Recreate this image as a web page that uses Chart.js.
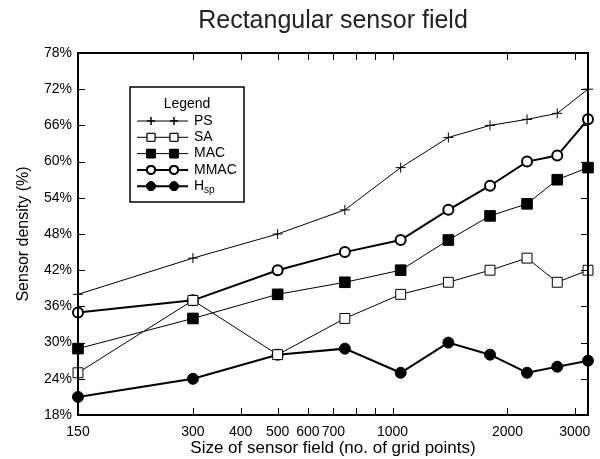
<!DOCTYPE html>
<html>
<head>
<meta charset="utf-8">
<script src="https://cdn.jsdelivr.net/npm/chart.js@4"></script>
<style>
  html, body { margin: 0; padding: 0; background: #fff; }
  #wrap { width: 600px; height: 459px; }
</style>
</head>
<body>
<div id="wrap"><canvas id="chart"></canvas></div>
<script>
// Grid sizes (x) and sensor density per method (%)
const fieldSizes = [150, 300, 500, 750, 1050, 1400, 1800, 2250, 2700, 3250];
const psValues   = [38, 44, 48, 52, 59, 64, 66, 67, 68, 72];
const saValues   = [25, 37, 28, 34, 38, 40, 42, 44, 40, 42];
const macValues  = [29, 34, 38, 40, 42, 47, 51, 53, 57, 59];
const mmacValues = [35, 37, 42, 45, 47, 52, 56, 60, 61, 67];
const hspValues  = [21, 24, 28, 29, 25, 30, 28, 25, 26, 27];

const xTickMarks  = [150, 300, 400, 500, 600, 700, 800, 900, 1000, 2000, 3000];
const xTickLabels = [150, 300, 400, 500, 600, 700, 1000, 2000, 3000];

const FONT = "'Liberation Sans', Arial, sans-serif";

function toPoints(values) {
  return values.map((v, i) => ({ x: fieldSizes[i], y: v }));
}

const datasets = [
  { label: "PS", data: toPoints(psValues), borderWidth: 1, pointStyle: "cross", pointRadius: 5, pointBorderWidth: 1, pointBackgroundColor: "#000" },
  { label: "SA", data: toPoints(saValues), borderWidth: 1, pointStyle: "rect", pointRadius: 7, pointBorderWidth: 1, pointBackgroundColor: "#fff" },
  { label: "MAC", data: toPoints(macValues), borderWidth: 1, pointStyle: "rect", pointRadius: 7.5, pointBorderWidth: 1, pointBackgroundColor: "#000" },
  { label: "MMAC", data: toPoints(mmacValues), borderWidth: 2, pointStyle: "circle", pointRadius: 5, pointBorderWidth: 2, pointBackgroundColor: "#fff" },
  { label: "Hsp", data: toPoints(hspValues), borderWidth: 2, pointStyle: "circle", pointRadius: 5.5, pointBorderWidth: 1, pointBackgroundColor: "#000" }
].map(d => Object.assign(d, { borderColor: "#000", pointBorderColor: "#000", clip: false, tension: 0 }));

// Frame, inward tick marks and the boxed legend
const framePlugin = {
  id: "frame",
  afterDatasetsDraw(chart) {
    const { ctx, chartArea: a, scales } = chart;
    ctx.save();
    ctx.strokeStyle = "#000";
    ctx.lineWidth = 1;
    const tl = 7;
    ctx.beginPath();
    scales.x.ticks.forEach(t => {
      const px = Math.round(scales.x.getPixelForValue(t.value)) + 0.5;
      if (px <= a.left + 1 || px >= a.right - 1) return;
      ctx.moveTo(px, a.bottom); ctx.lineTo(px, a.bottom - tl);
      ctx.moveTo(px, a.top); ctx.lineTo(px, a.top + tl);
    });
    scales.y.ticks.forEach(t => {
      const py = Math.round(scales.y.getPixelForValue(t.value)) + 0.5;
      if (py <= a.top + 1 || py >= a.bottom - 1) return;
      ctx.moveTo(a.left, py); ctx.lineTo(a.left + tl, py);
      ctx.moveTo(a.right, py); ctx.lineTo(a.right - tl, py);
    });
    ctx.stroke();
    ctx.lineWidth = 2;
    ctx.strokeRect(a.left, a.top, a.right - a.left, a.bottom - a.top);

    // legend box
    const bx = 130, by = 87, bw = 114, bh = 115;
    ctx.fillStyle = "#fff";
    ctx.fillRect(bx, by, bw, bh);
    ctx.lineWidth = 1.5;
    ctx.strokeRect(bx, by, bw, bh);
    ctx.fillStyle = "#000";
    ctx.font = "14px " + FONT;
    ctx.textAlign = "center";
    ctx.textBaseline = "middle";
    ctx.fillText("Legend", bx + bw / 2, 104);
    ctx.textAlign = "left";
    chart.data.datasets.forEach((ds, i) => {
      const y = 121 + i * 16.3;
      ctx.lineWidth = ds.borderWidth;
      ctx.strokeStyle = "#000";
      ctx.beginPath();
      ctx.moveTo(137, y); ctx.lineTo(188, y);
      ctx.stroke();
      [151, 174].forEach(px => {
        ctx.fillStyle = ds.pointBackgroundColor;
        ctx.lineWidth = ds.pointBorderWidth;
        Chart.helpers.drawPoint(ctx, { pointStyle: ds.pointStyle, radius: ds.pointRadius * 0.8, borderWidth: ds.pointBorderWidth, rotation: 0 }, px, y);
        if (ds.pointStyle !== "cross") ctx.fill();
        ctx.stroke();
      });
      ctx.fillStyle = "#000";
      ctx.font = "14px " + FONT;
      if (ds.label === "Hsp") {
        ctx.fillText("H", 194, y);
        ctx.font = "10px " + FONT;
        ctx.fillText("sp", 204, y + 4);
      } else {
        ctx.fillText(ds.label, 194, y);
      }
    });
    ctx.restore();
  }
};

new Chart(document.getElementById("chart"), {
  type: "line",
  data: { datasets },
  options: {
    responsive: true,
    maintainAspectRatio: false,
    animation: false,
    layout: { padding: { left: 0, right: 12, top: 0, bottom: 0 } },
    plugins: {
      legend: { display: false },
      tooltip: { enabled: false },
      title: {
        display: true,
        text: "Rectangular sensor field",
        color: "#222",
        fullSize: false,
        font: { family: FONT, size: 25, weight: "normal" },
        padding: { top: 6, bottom: 17 }
      }
    },
    scales: {
      x: {
        type: "logarithmic",
        min: 150,
        max: 3250,
        grid: { display: false, drawTicks: false },
        border: { display: false },
        afterBuildTicks: scale => { scale.ticks = xTickMarks.map(v => ({ value: v })); },
        afterFit: scale => { scale.height = 44; },
        ticks: {
          autoSkip: false,
          maxRotation: 0,
          minRotation: 0,
          padding: 9,
          color: "#000",
          font: { family: FONT, size: 14 },
          callback: v => xTickLabels.includes(v) ? String(v) : ""
        },
        title: {
          display: true,
          text: "Size of sensor field (no. of grid points)",
          color: "#000",
          font: { family: FONT, size: 17 },
          padding: { top: 0, bottom: 0 }
        }
      },
      y: {
        min: 18,
        max: 78,
        grid: { display: false, drawTicks: false },
        border: { display: false },
        afterFit: scale => { scale.width = 78; },
        ticks: {
          stepSize: 6,
          padding: 6,
          color: "#000",
          font: { family: FONT, size: 14 },
          callback: v => v + "%"
        },
        title: {
          display: true,
          text: "Sensor density (%)",
          color: "#000",
          font: { family: FONT, size: 16 },
          padding: { top: 14, bottom: 0 }
        }
      }
    }
  },
  plugins: [framePlugin]
});
</script>
</body>
</html>
